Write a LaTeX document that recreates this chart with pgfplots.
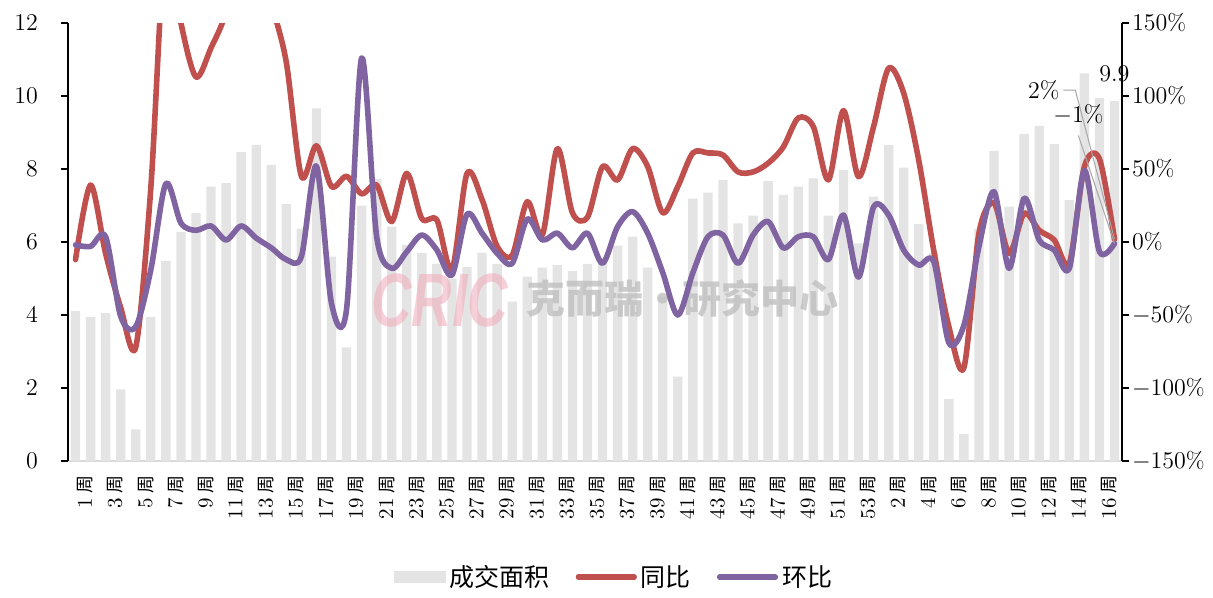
\documentclass[border=0pt]{standalone}
\usepackage{fontspec}
\newfontfamily\cjk{Noto Sans CJK SC}
\newfontfamily\wmfont{Liberation Sans}
\usepackage{pgfplots}
\usepackage{pgfplotstable}
\pgfplotsset{compat=1.18}

\definecolor{barc}{RGB}{228,228,228}
\definecolor{yoyc}{RGB}{192,80,77}
\definecolor{momc}{RGB}{128,100,162}
\definecolor{axgray}{RGB}{217,217,217}
\definecolor{leadc}{RGB}{166,166,166}
\definecolor{wmpink}{RGB}{240,168,184}

\newcommand{\zh}[1]{\hspace{2.5pt}{\cjk\fontsize{9}{10}\selectfont #1}}

% weekly area (left axis), yoy and mom in % (right axis)
\pgfplotstableread{
x area yoy mom
0 4.11 -12 -2
1 3.95 39 -3
2 4.05 -8 3.6
3 1.96 -45 -51
4 0.87 -72 -58
5 3.95 37 -19
6 5.48 210 40
7 6.27 150 13
8 6.79 113 8
9 7.52 133 11
10 7.61 158 1.4
11 8.46 210 11
12 8.66 215 2.7
13 8.11 165 -4
14 7.04 123 -12
15 6.37 45 -10
16 9.66 66 52
17 5.60 38 -42
18 3.11 45 -46
19 7.00 33 126
20 7.73 39 3.6
21 6.42 14 -18
22 5.92 47 -6.6
23 5.70 16 4.8
24 5.40 15 -5.5
25 5.00 -19 -22.6
26 5.32 47 19
27 5.71 29 6
28 5.40 -3 -7.7
29 4.37 -9 -14.6
30 5.05 27.6 15.7
31 5.30 4.8 1.4
32 5.37 64 6
33 5.20 20 -4
34 5.40 17 6
35 5.50 51.6 -14.6
36 5.90 42.5 10.5
37 6.15 64 20.8
38 5.30 51.6 6
39 4.50 20 -21
40 2.31 38 -50
41 7.19 61 -21
42 7.35 61 3.6
43 7.70 59.6 4.8
44 6.51 48 -14.6
45 6.72 48 4.8
46 7.67 54 14
47 7.29 65 -4
48 7.52 85 3.6
49 7.74 79 3.6
50 6.72 42.5 -12
51 7.97 90 18.5
52 5.96 44.7 -24
53 7.24 79 24
54 8.66 119 18.5
55 8.04 102 -5.5
56 6.50 56 -15.8
57 5.70 -6 -13.5
58 1.70 -58 -69
59 0.74 -86 -57
60 6.36 6 -3
61 8.50 26.7 34.5
62 6.97 -7.7 -18
63 8.96 19.6 30
64 9.18 8 1.4
65 8.68 1.4 -5.5
66 7.15 -14.6 -18
67 10.62 51.6 49
68 9.95 57 -6.6
69 9.87 2 -1
}\data

\begin{document}
\begin{tikzpicture}
\pgfplotsset{
  every axis/.append style={
    scale only axis, width=527pt, height=219pt,
    xmin=-0.5, xmax=69.5,
    tick align=outside,
    major tick length=3.5pt,
  },
}
\begin{axis}[
  name=ax1,
  clip=false,
  ymin=0, ymax=12,
  ytick={0,2,...,12},
  axis y line*=left,
  axis x line*=bottom,
  x axis line style={draw=axgray, line width=1pt, -},
  y axis line style={black, line width=0.9pt, -},
  ytick style={black, line width=0.9pt},
  xtick style={draw=none},
  yticklabel style={font=\fontsize{12}{14}\selectfont, xshift=-8pt},
  xtick={0,2,...,68},
  xticklabels={1\zh{周},3\zh{周},5\zh{周},7\zh{周},9\zh{周},11\zh{周},13\zh{周},15\zh{周},17\zh{周},19\zh{周},21\zh{周},23\zh{周},25\zh{周},27\zh{周},29\zh{周},31\zh{周},33\zh{周},35\zh{周},37\zh{周},39\zh{周},41\zh{周},43\zh{周},45\zh{周},47\zh{周},49\zh{周},51\zh{周},53\zh{周},2\zh{周},4\zh{周},6\zh{周},8\zh{周},10\zh{周},12\zh{周},14\zh{周},16\zh{周}},
  xticklabel style={rotate=90, anchor=east, font=\fontsize{10.5}{12}\selectfont, yshift=-5pt},
]
\addplot[ybar, bar width=0.62, bar shift=0pt, fill=barc, draw=none] table[x=x,y=area]{\data};
\node[font=\fontsize{12}{14}\selectfont, above, inner sep=0pt, yshift=9pt] at (axis cs:69,9.87) {9.9};
% watermark
\node[font=\wmfont\bfseries\itshape\fontsize{28}{30}\selectfont, text=wmpink, opacity=0.55, yscale=1.35] at (axis cs:24.2,4.4) {CRIC};
\node[font=\cjk\bfseries\fontsize{19.5}{22}\selectfont, text=black!25, opacity=0.8] at (axis cs:40.3,4.45) {克而瑞·研究中心};
\end{axis}

\begin{axis}[
  name=ax2,
  ymin=-150, ymax=150,
  ytick={-150,-100,...,150},
  axis y line*=right,
  axis x line=none,
  y axis line style={black, line width=0.9pt, -},
  ytick style={black, line width=0.9pt},
  yticklabel={\pgfmathprintnumber{\tick}\%},
  yticklabel style={font=\fontsize{11.5}{13}\selectfont, xshift=-2pt},
  legend style={at={(0.519,-0.265)}, anchor=center, draw=none, fill=none,
    legend columns=3, font=\cjk\fontsize{12.5}{14}\selectfont,
    /tikz/every even column/.append style={column sep=11pt}},
  legend cell align=left,
]
\addlegendimage{legend image code/.code={\fill[barc] (0pt,-2.6pt) rectangle (25.5pt,2.6pt);}}
\addlegendentry{成交面积}
\addplot[yoyc, line width=2.8pt, smooth, line cap=round, line join=round,
  legend image code/.code={\draw[yoyc, line width=2.6pt, line cap=round] (0pt,0pt) -- (28pt,0pt);}]
  table[x=x,y=yoy]{\data};
\addlegendentry{同比}
\addplot[momc, line width=2.8pt, smooth, line cap=round, line join=round,
  legend image code/.code={\draw[momc, line width=2.6pt, line cap=round] (0pt,0pt) -- (28pt,0pt);}]
  table[x=x,y=mom]{\data};
\addlegendentry{环比}
% data labels with leader lines
\draw[leadc, line width=0.5pt] (axis cs:65.6,104) -- (axis cs:66.4,104) -- (axis cs:69,2);
\draw[leadc, line width=0.5pt] (axis cs:66.6,73) -- (axis cs:69,-1);
\node[font=\fontsize{12}{14}\selectfont, anchor=east, inner sep=1pt] at (axis cs:65.5,104) {2\%};
\node[font=\fontsize{12}{14}\selectfont, inner sep=1pt] at (axis cs:66.6,87) {$-$1\%};
\end{axis}
\path (ax1.south west) ++(-34pt,-64.5pt) rectangle ++(606.5pt,295pt);
\end{tikzpicture}
\end{document}
